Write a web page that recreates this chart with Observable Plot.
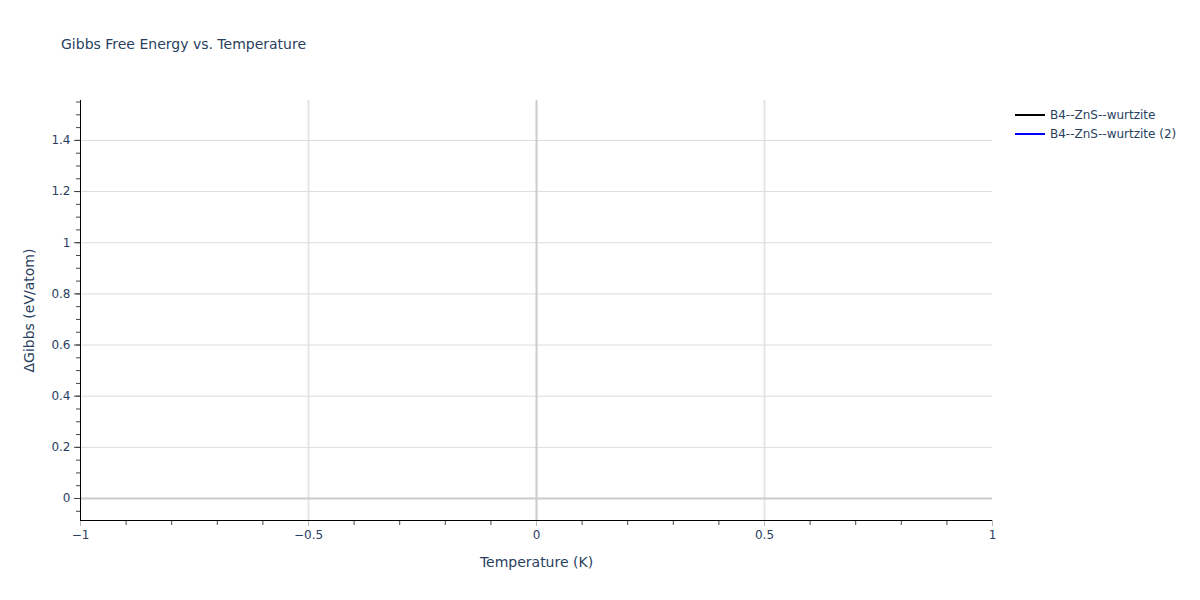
<!DOCTYPE html>
<html>
<head>
<meta charset="utf-8">
<script src="https://cdn.jsdelivr.net/npm/d3@7"></script>
<script src="https://cdn.jsdelivr.net/npm/@observablehq/plot@0.6"></script>
<style>
  html, body { margin: 0; padding: 0; background: #fff; }
  #wrap { position: relative; width: 1200px; height: 600px; font-family: "DejaVu Sans", Verdana, sans-serif; color: #2a3f5f; }
  #title { position: absolute; left: 61px; top: 36px; font-size: 14px; white-space: nowrap; }
  #legend { position: absolute; left: 1015px; top: 105px; font-size: 12px; }
  .item { display: flex; align-items: center; height: 19px; white-space: nowrap; }
  .sw { width: 30px; height: 2px; margin-right: 5px; }
  [aria-label="x-axis label"], [aria-label="y-axis label"] { font-size: 14px; }
</style>
</head>
<body>
<div id="wrap">
  <div id="chart"></div>
  <div id="title"></div>
  <div id="legend"></div>
</div>
<script>
// ---- data ----
const chartTitle = "Gibbs Free Energy vs. Temperature";
const xLabel = "Temperature (K)";
const yLabel = "ΔGibbs (eV/atom)";
const seriesNames = ["B4--ZnS--wurtzite", "B4--ZnS--wurtzite (2)"];
const seriesColors = ["#000000", "#0000ff"];
// both series carry no visible points in the reference
const temperatures1 = [];
const gibbs1 = [];
const temperatures2 = [];
const gibbs2 = [];
const xDomain = [-1, 1];
const yDomain = [-0.086, 1.556];
const xTicks = [-1, -0.5, 0, 0.5, 1];
const xMinorTicks = d3.range(-10, 11).map(i => i / 10);
const yTicks = [0, 0.2, 0.4, 0.6, 0.8, 1, 1.2, 1.4];
const yMinorTicks = d3.range(-1, 32).map(i => i / 20);

const rows = [
  ...temperatures1.map((t, i) => ({series: seriesNames[0], t, g: gibbs1[i]})),
  ...temperatures2.map((t, i) => ({series: seriesNames[1], t, g: gibbs2[i]}))
];

const fmt = d => (d < 0 ? "\u2212" + (-d) : String(d));

const chart = Plot.plot({
  width: 1200,
  height: 600,
  marginLeft: 80,
  marginRight: 208,
  marginTop: 100,
  marginBottom: 80,
  style: {fontFamily: '"DejaVu Sans", Verdana, sans-serif', fontSize: "12px", color: "#2a3f5f", background: "#fff"},
  x: {domain: xDomain},
  y: {domain: yDomain},
  color: {domain: seriesNames, range: seriesColors},
  marks: [
    Plot.gridX(xTicks.filter(d => d !== 0 && d !== -1 && d !== 1), {stroke: "#e6e6e6", strokeOpacity: 1, strokeWidth: 2}),
    Plot.gridY(yTicks.filter(d => d !== 0), {stroke: "#dcdcdc", strokeOpacity: 1, strokeWidth: 1}),
    Plot.ruleX([0], {stroke: "#cccccc", strokeWidth: 2}),
    Plot.ruleY([0], {stroke: "#cccccc", strokeWidth: 2}),
    Plot.line(rows, {x: "t", y: "g", z: "series", stroke: "series", strokeWidth: 2}),
    Plot.axisX(xMinorTicks, {tickSize: 5, tickFormat: () => "", stroke: "#444", label: null}),
    Plot.axisX(xTicks, {tickSize: 6, tickPadding: 4, tickFormat: fmt, stroke: "#bbb", label: xLabel, labelAnchor: "center", labelOffset: 46, labelArrow: "none"}),
    Plot.axisY(yMinorTicks, {tickSize: 4, tickFormat: () => "", stroke: "#444", label: null}),
    Plot.axisY(yTicks, {tickSize: 6, tickPadding: 4, tickFormat: fmt, stroke: "#444", label: yLabel, labelAnchor: "center", labelOffset: 56, labelArrow: "none"}),
    Plot.ruleX([xDomain[0]], {stroke: "#000", strokeWidth: 1}),
    Plot.ruleY([yDomain[0]], {stroke: "#000", strokeWidth: 1})
  ]
});
document.getElementById("chart").appendChild(chart);
document.getElementById("title").textContent = chartTitle;
const legend = document.getElementById("legend");
seriesNames.forEach((name, i) => {
  const item = document.createElement("div");
  item.className = "item";
  const sw = document.createElement("div");
  sw.className = "sw";
  sw.style.background = seriesColors[i];
  const tx = document.createElement("span");
  tx.textContent = name;
  item.appendChild(sw);
  item.appendChild(tx);
  legend.appendChild(item);
});
</script>
</body>
</html>
